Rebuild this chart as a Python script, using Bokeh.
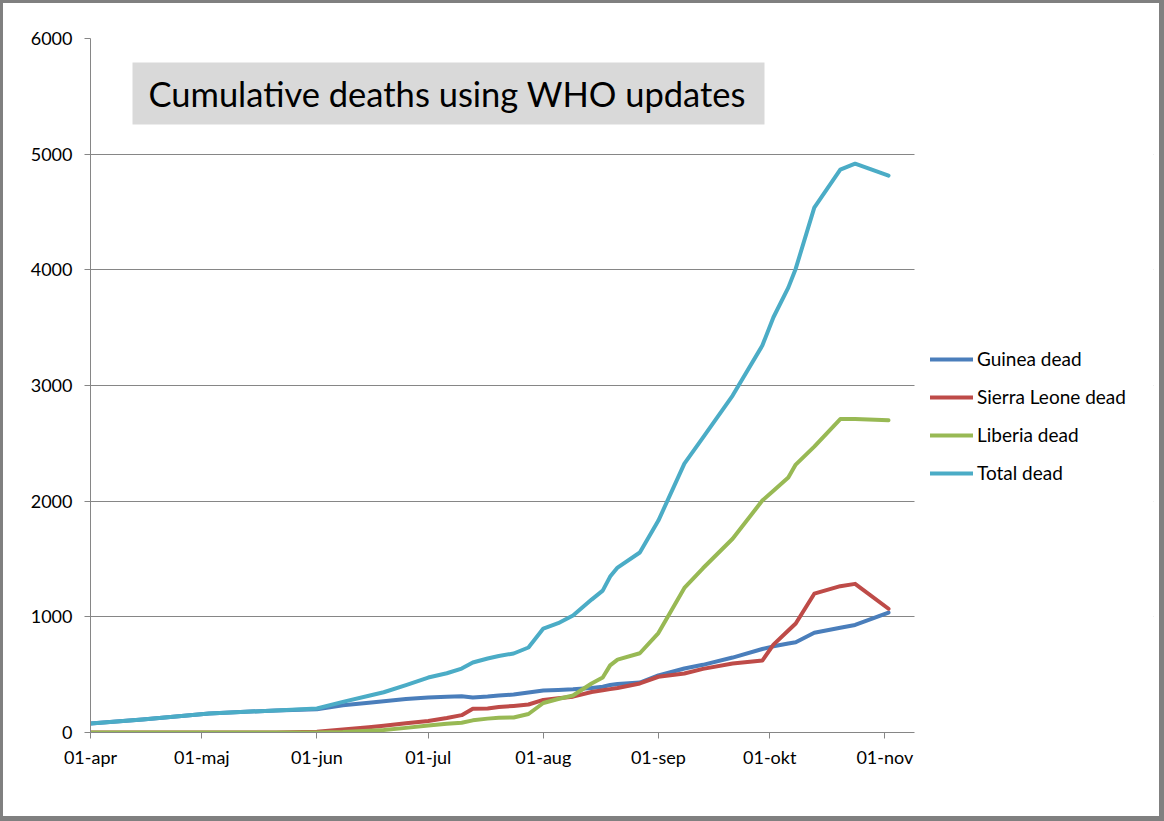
from datetime import datetime, timedelta
import pandas as pd
from bokeh.plotting import figure
from bokeh.models import Range1d, FixedTicker, Legend, LegendItem, BoxAnnotation, Label
from bokeh.embed import file_html
from bokeh.resources import INLINE

# ---------------- data ----------------
dates = ["2014-04-01", "2014-04-15", "2014-05-03", "2014-05-21", "2014-06-01",
         "2014-06-08", "2014-06-15", "2014-06-19", "2014-06-25", "2014-07-01",
         "2014-07-06", "2014-07-10", "2014-07-13", "2014-07-17", "2014-07-20",
         "2014-07-24", "2014-07-28", "2014-08-01", "2014-08-05", "2014-08-09",
         "2014-08-14", "2014-08-17", "2014-08-19", "2014-08-21", "2014-08-27",
         "2014-09-01", "2014-09-08", "2014-09-13", "2014-09-21", "2014-09-29",
         "2014-10-02", "2014-10-06", "2014-10-08", "2014-10-13", "2014-10-20",
         "2014-10-24", "2014-11-02"]

guinea = [78, 112, 164, 191, 201, 235, 258, 270, 290, 303,
          310, 314, 303, 311, 320, 328, 346, 363, 367, 373,
          385, 396, 410, 420, 432, 493, 553, 585, 648, 722,
          745, 770, 780, 862, 905, 930, 1037]

sierra_leone = [0, 0, 0, 0, 6, 25, 45, 58, 80, 100,
                125, 150, 205, 207, 220, 230, 242, 282, 296, 310,
                350, 365, 375, 385, 424, 482, 510, 550, 596, 622,
                760, 882, 942, 1200, 1265, 1285, 1070]

liberia = [0, 0, 0, 0, 0, 5, 15, 22, 40, 60,
           75, 85, 105, 120, 127, 130, 160, 255, 290, 320,
           424, 475, 580, 630, 685, 860, 1250, 1420, 1675, 2005,
           2090, 2204, 2316, 2472, 2710, 2710, 2700]

total = [78, 112, 164, 191, 207, 265, 318, 348, 410, 475,
         512, 553, 605, 640, 662, 683, 735, 899, 945, 1011,
         1149, 1227, 1348, 1426, 1556, 1832, 2325, 2550, 2913, 3345,
         3590, 3846, 4010, 4538, 4866, 4918, 4814]

series_names = ["Guinea dead", "Sierra Leone dead", "Liberia dead", "Total dead"]
series_colors = ["#4A7EBB", "#BE4B48", "#98B954", "#4BACC6"]

tick_dates = ["2014-04-01", "2014-05-01", "2014-06-01", "2014-07-01",
              "2014-08-01", "2014-09-01", "2014-10-01", "2014-11-01"]
tick_labels = ["01-apr", "01-maj", "01-jun", "01-jul",
               "01-aug", "01-sep", "01-okt", "01-nov"]
y_ticks = [0, 1000, 2000, 3000, 4000, 5000, 6000]

title_text = "Cumulative deaths using WHO updates"

# ---------------- layout ----------------
W, H = 1164, 821
BL, BT = 3, 3              # CSS border width left / top (canvas is shifted by it)
FL, FT = 90 - BL, 38 - BT  # frame left / top inside the canvas
AXIS_W, FH = 824, 694      # visible axis length / frame height
MB_R = 14
FW = W - FL - MB_R         # frame extends right so the legend is not clipped

x_start = datetime(2014, 4, 1)
axis_days = 222            # axis runs from 01-apr to about 09-nov
days_per_px = axis_days / AXIS_W
x_axis_end = x_start + timedelta(days=axis_days)
x_frame_end = x_start + timedelta(days=days_per_px * FW)
x0_ms = pd.Timestamp(x_start).value / 1e6
xa_ms = pd.Timestamp(x_axis_end).value / 1e6
x1_ms = pd.Timestamp(x_frame_end).value / 1e6
Y0, Y1 = 0, 6000


def px_to_data(px, py):
    """Convert a page pixel position to data coordinates (for the title box)."""
    fx = (px - BL - FL) / FW
    fy = (py - BT - FT) / FH
    return x0_ms + fx * (x1_ms - x0_ms), Y1 - fy * (Y1 - Y0)


FONT = "Lato"

p = figure(width=W, height=H, x_axis_type="datetime",
           output_backend="svg", toolbar_location=None,
           x_range=Range1d(x0_ms, x1_ms), y_range=Range1d(Y0, Y1),
           min_border_left=FL, min_border_right=MB_R,
           min_border_top=FT, min_border_bottom=H - FT - FH)
p.styles = {"border-style": "solid", "border-color": "#808080",
            "border-width": "3px 5px 5px 3px"}
p.outline_line_color = None
p.background_fill_color = "white"
p.border_fill_color = "white"

# grid
p.xgrid.grid_line_color = None
p.ygrid.grid_line_color = "#868686"
p.ygrid.grid_line_width = 1
p.ygrid.ticker = FixedTicker(ticks=y_ticks)

# white cover hides the grid to the right of the axis end (legend area)
p.add_layout(BoxAnnotation(left=xa_ms + 1, right=x1_ms * 1.01, bottom=Y0 - 100, top=Y1 + 100,
                           fill_color="white", fill_alpha=1.0, line_color=None,
                           level="underlay"))

# y axis
p.yaxis.ticker = FixedTicker(ticks=y_ticks)
p.yaxis.axis_line_color = "#868686"
p.yaxis.major_tick_line_color = "#868686"
p.yaxis.major_tick_out = 6
p.yaxis.major_tick_in = 0
p.yaxis.minor_tick_line_color = None
p.yaxis.major_label_standoff = 12
p.yaxis.major_label_text_font = FONT
p.yaxis.major_label_text_font_size = "18px"
p.yaxis.major_label_text_color = "#000000"

# x axis
tick_ms = [pd.Timestamp(d).value / 1e6 for d in tick_dates]
p.xaxis.ticker = FixedTicker(ticks=tick_ms)
p.xaxis.bounds = (x0_ms, xa_ms)
p.xaxis.major_label_overrides = {t: lab for t, lab in zip(tick_ms, tick_labels)}
p.xaxis.axis_line_color = "#868686"
p.xaxis.major_tick_line_color = "#868686"
p.xaxis.major_tick_out = 6
p.xaxis.major_tick_in = 0
p.xaxis.minor_tick_line_color = None
p.xaxis.major_label_standoff = 7
p.xaxis.major_label_text_font = FONT
p.xaxis.major_label_text_font_size = "18px"
p.xaxis.major_label_text_color = "#000000"

# title box
bx0, by0 = px_to_data(132, 124)
bx1, by1 = px_to_data(764, 62)
p.add_layout(BoxAnnotation(left=bx0, right=bx1, bottom=by0, top=by1,
                           fill_color="#D9D9D9", fill_alpha=1.0,
                           line_color=None, level="underlay"))
tx, ty = px_to_data(148, 93)
p.add_layout(Label(x=tx, y=ty, text=title_text, text_font=FONT,
                   text_font_size="34.5px", text_baseline="middle",
                   text_align="left", text_color="#000000"))

# lines
xs = pd.to_datetime(dates)
renderers = []
for vals, color in zip([guinea, sierra_leone, liberia, total], series_colors):
    r = p.line(xs, vals, line_color=color, line_width=4, line_join="round",
               line_cap="round")
    renderers.append(r)

legend = Legend(items=[LegendItem(label=n, renderers=[r]) for n, r in zip(series_names, renderers)],
                location=(840, 248), orientation="vertical",
                border_line_color=None, background_fill_alpha=0,
                padding=0, margin=0, spacing=15,
                glyph_width=43, glyph_height=20, label_height=20,
                label_standoff=4, label_text_font=FONT,
                label_text_font_size="19px", label_text_color="#000000")
p.add_layout(legend)

open("out.html", "w").write(file_html(p, INLINE))
